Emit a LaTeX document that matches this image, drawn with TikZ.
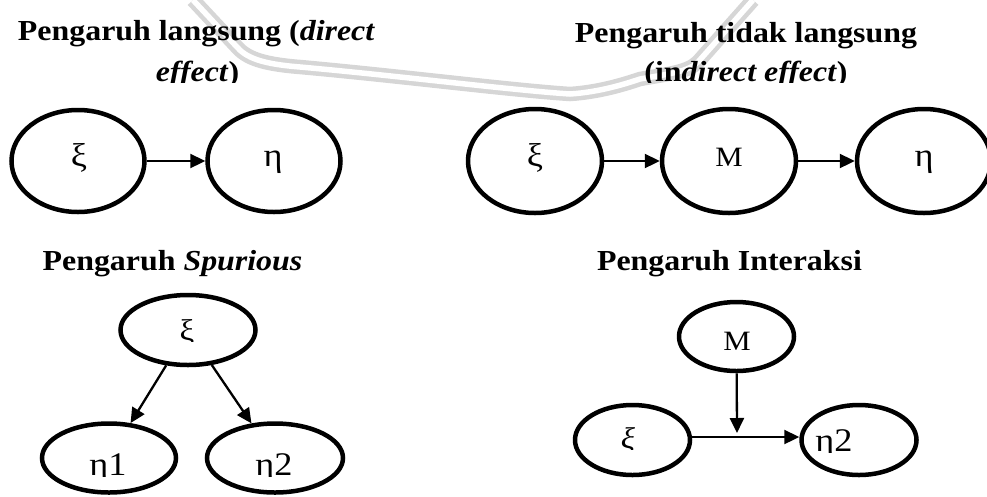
\documentclass[tikz,border=0pt]{standalone}
\usepackage{fontspec}
\setmainfont{Liberation Serif}[FakeStretch=1.1]
\usetikzlibrary{shapes.geometric,arrows.meta}

\tikzset{
  ell/.style={ellipse, draw, line width=4.5pt, inner sep=0pt},
  bigell/.style={ell, minimum width=133pt, minimum height=102pt},
  midell/.style={ell, minimum width=134pt, minimum height=70pt},
  smallell/.style={ell, minimum width=115pt, minimum height=70pt},
  arr/.style={line width=2.3pt, -{Triangle[length=15pt,width=14pt]}},
  ttl/.style={anchor=base, inner sep=0pt, font=\fontsize{29}{34}\selectfont\bfseries},
  lbl/.style={anchor=base, inner sep=0pt, font=\fontsize{28}{32}\selectfont},
  greek/.style={anchor=base, inner sep=0pt, font=\fontsize{33}{38}\selectfont},
  greeksm/.style={anchor=base, inner sep=0pt, font=\fontsize{30}{34}\selectfont},
  wm/.style={draw=gray!32, line width=4.5pt, double=white, double distance=5.5pt}
}

% text whose lower part is cut off at its baseline
\newcommand\cutnode[5]{%
  \begin{scope}
    \clip (#2-170,#3+1) rectangle (#2+170,#3-60);
    \node[#4] (#1) at (#2,#3) {#5};
  \end{scope}}

\begin{document}
\begin{tikzpicture}[x=1pt,y=-1pt]
\useasboundingbox (0,0) rectangle (987,496);

% faint emblem arc in the background
\draw[wm] (193,0) -- (236,46)
  .. controls (246,58) and (262,64) .. (300,67)
  .. controls (400,76) and (510,90) .. (570,94)
  .. controls (600,92) and (625,84) .. (640,79)
  .. controls (668,74) and (688,72) .. (698,62) -- (753,0);

% ---- direct effect ----
\node[ttl] (t_direct1) at (196.5,40) {Pengaruh langsung (\textit{direct}};
\cutnode{t_direct2}{197.5}{81}{ttl}{\textit{effect})}
\node[bigell] (d_xi) at (78,161) {};
\node[bigell] (d_eta) at (274,161) {};
\node[greek] (d_xi_t) at (79,166) {ξ};
\node[greek] (d_eta_t) at (273,166) {η};
\draw[arr] (d_xi) -- (d_eta);

% ---- indirect effect ----
\node[ttl] (t_indirect1) at (746,42) {Pengaruh tidak langsung};
\cutnode{t_indirect2}{746}{81}{ttl}{(in\textit{direct effect})}
\node[bigell, minimum width=134pt, minimum height=104pt] (i_xi) at (535,161) {};
\node[bigell, minimum width=134pt, minimum height=104pt] (i_M) at (729,161) {};
\node[bigell, minimum width=134pt, minimum height=104pt] (i_eta) at (924,161) {};
\node[greek] (i_xi_t) at (535,166) {ξ};
\node[lbl] (i_M_t) at (729,166) {M};
\node[greek] (i_eta_t) at (924,166) {η};
\draw[arr] (i_xi) -- (i_M);
\draw[arr] (i_M) -- (i_eta);

% ---- spurious effect ----
\node[ttl] (t_spurious) at (172.5,270) {Pengaruh \textit{Spurious}};
\node[midell, minimum width=135pt] (s_xi) at (188,330) {};
\node[midell, minimum height=69pt] (s_eta1) at (109,458) {};
\node[midell, minimum width=136pt, minimum height=69pt] (s_eta2) at (275,458) {};
\cutnode{s_xi_t}{187}{340}{greeksm}{ξ}
\cutnode{s_eta1_t}{108}{475}{greek}{η1}
\cutnode{s_eta2_t}{274}{475}{greek}{η2}
\draw[arr] (s_xi) -- (s_eta1);
\draw[arr] (s_xi) -- (s_eta2);

% ---- interaction effect ----
\node[ttl] (t_interaction) at (729.5,270) {Pengaruh Interaksi};
\node[smallell, minimum height=69pt] (x_M) at (736.5,336.5) {};
\node[smallell] (x_xi) at (632.5,440) {};
\node[smallell] (x_eta) at (859,440) {};
\node[lbl] (x_M_t) at (737,350) {M};
\cutnode{x_xi_t}{628}{448}{greeksm}{\textit{ξ}}
\cutnode{x_eta_t}{834}{451}{greek}{η2}
\draw[arr] ([yshift=3pt]x_xi.east) -- ([yshift=3pt]x_eta.west);
\coordinate (x_join) at (737,433);
\draw[arr] (x_M) -- (x_join);
\end{tikzpicture}
\end{document}
